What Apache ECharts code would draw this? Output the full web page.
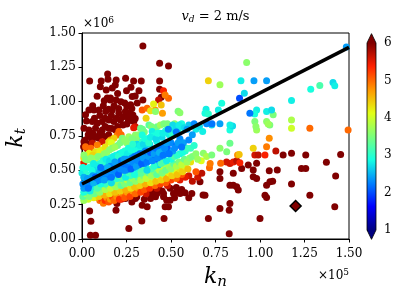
<!DOCTYPE html>
<html><head><meta charset="utf-8">
<script src="https://cdn.jsdelivr.net/npm/echarts@6/dist/echarts.min.js"></script>
<style>html,body{margin:0;padding:0;background:#fff}#c{width:408px;height:307px}</style>
</head><body><div id="c"></div>
<script>
// ---- data (k_n in units of 1e5, k_t in units of 1e6, colour value c) ----
const xTicks = [0, 0.25, 0.5, 0.75, 1.0, 1.25, 1.5];
const yTicks = [0, 0.25, 0.5, 0.75, 1.0, 1.25, 1.5];
const cTicks = [1, 2, 3, 4, 5, 6];

// points saturated at the top of the colour scale (c >= 6)
const ptsDark = [
[0.342,1.406],[0.436,1.280],[0.486,1.260],[0.043,1.151],[0.108,1.151],[0.144,1.202],[0.146,1.163],[0.187,1.122],[0.192,1.158],[0.245,1.170],
[0.290,1.151],[0.333,1.151],[0.436,1.151],[0.436,1.090],[0.275,1.105],[0.299,1.041],[0.342,1.012],[0.445,1.032],[0.136,1.085],[0.103,1.109],
[0.142,1.026],[0.160,1.026],[0.282,1.037],[0.273,0.977],[0.159,1.012],[0.125,1.007],[0.192,1.012],[0.219,1.000],[0.252,0.964],[0.206,0.951],
[0.150,0.944],[0.039,0.940],[0.067,0.940],[0.095,0.940],[0.133,0.928],[0.170,0.940],[0.207,0.916],[0.244,0.928],[0.280,0.951],[0.286,0.903],
[0.299,0.878],[0.252,0.903],[0.020,0.904],[0.058,0.855],[0.086,0.843],[0.114,0.855],[0.151,0.867],[0.179,0.855],[0.216,0.867],[0.263,0.879],
[0.291,0.855],[0.252,0.837],[0.011,0.806],[0.039,0.794],[0.076,0.806],[0.114,0.794],[0.151,0.806],[0.188,0.794],[0.168,0.805],[0.048,0.745],
[0.095,0.733],[0.133,0.745],[0.011,0.709],[0.019,0.720],[0.058,0.720],[0.079,0.745],[0.112,0.757],[0.150,0.760],[0.009,0.672],[0.030,0.690],
[0.025,0.860],[0.070,0.880],[0.100,0.900],[0.130,0.880],[0.165,0.900],[0.195,0.880],[0.230,0.890],[0.270,0.920],[0.060,0.970],[0.120,0.970],
[0.180,0.970],[0.240,0.990],[0.310,0.990],[0.085,1.040],[0.200,1.060],[0.250,1.080],[0.320,1.080],[0.170,1.100],[0.060,0.770],[0.130,0.820],
[0.200,0.820],[0.230,0.830],[0.100,0.770],[0.035,0.760],[0.260,0.860],
[0.043,0.204],[0.050,0.129],[0.047,0.027],[0.076,0.027],[0.191,0.209],[0.196,0.258],[0.174,0.290],[0.244,0.295],[0.263,0.076],[0.300,0.295],
[0.308,0.307],[0.338,0.246],[0.366,0.234],[0.336,0.131],[0.385,0.295],[0.413,0.307],[0.398,0.315],[0.421,0.331],[0.458,0.307],[0.476,0.283],
[0.458,0.331],[0.467,0.234],[0.486,0.234],[0.495,0.282],[0.461,0.149],[0.514,0.331],[0.533,0.340],[0.551,0.331],[0.579,0.336],[0.617,0.331],
[0.495,0.370],[0.530,0.375],[0.400,0.360],[0.430,0.370],[0.450,0.350],[0.380,0.330],[0.280,0.270],[0.350,0.290],[0.520,0.300],[0.600,0.300],
[0.560,0.360],[0.663,0.416],[0.680,0.320],[0.691,0.319],[0.710,0.149],
[0.775,0.222],[0.775,0.441],[0.775,0.489],[0.831,0.258],[0.827,0.210],[0.827,0.039],[0.831,0.392],[0.850,0.392],[0.869,0.380],[0.878,0.356],
[0.850,0.478],[0.897,0.514],[0.934,0.538],[0.981,0.551],[0.962,0.502],[0.962,0.453],[0.981,0.441],[1.000,0.149],[1.028,0.319],[1.037,0.302],
[1.037,0.392],[1.056,0.416],[1.071,0.421],[1.052,0.497],[1.097,0.502],[1.130,0.611],[1.177,0.624],[1.177,0.400],[1.233,0.514],[1.257,0.514],
[1.257,0.611],[1.280,0.319],[1.373,0.558],[1.425,0.458],[1.420,0.234],[1.453,0.616]
];
const ptsRed = [
[0.01,0.555,5.5],[0.03,0.655,5.6],[0.058,0.697,5.7],[0.114,0.709,5.6],[0.300,0.818,5.6],[0.290,0.810,5.5],[0.458,1.080,5.4],[0.430,1.012,5.7],
[0.22,0.29,5.5],[0.36,0.33,5.6],[0.42,0.37,5.7],[0.48,0.39,5.6],[0.55,0.43,5.5],[0.60,0.46,5.6],[0.62,0.42,5.7],[0.65,0.45,5.6],[0.673,0.478,5.7],
[0.831,0.550,5.6],[0.850,0.560,5.5],[0.869,0.570,5.7],[0.887,0.555,5.4],[0.812,0.560,5.6],[0.971,0.611,5.6],[0.990,0.611,5.7],[1.028,0.611,5.4],
[1.089,0.641,5.7],[0.580,0.450,5.5]
];
const ptsOrange = [
[0.10,0.28,5.0],[0.09,0.30,4.7],[0.11,0.29,5.2],[0.12,0.26,4.9],[0.13,0.28,5.3],[0.14,0.30,4.8],[0.15,0.27,5.1],[0.16,0.29,4.7],[0.17,0.31,5.2],
[0.18,0.28,5.0],[0.195,0.31,4.8],[0.21,0.29,5.3],[0.23,0.33,4.9],[0.24,0.30,5.1],[0.255,0.34,4.7],[0.27,0.31,5.2],[0.285,0.35,4.8],[0.30,0.33,5.0],
[0.315,0.37,4.7],[0.33,0.34,5.2],[0.345,0.38,4.9],[0.35,0.36,5.1],[0.37,0.40,4.8],[0.38,0.37,5.3],[0.395,0.41,4.7],[0.41,0.39,5.0],[0.425,0.43,4.8],
[0.44,0.40,5.2],[0.455,0.44,4.9],[0.47,0.41,5.1],[0.49,0.45,4.7],[0.50,0.43,5.2],[0.515,0.46,4.8],[0.53,0.44,5.0],[0.545,0.48,4.7],[0.56,0.47,5.1],
[0.64,0.49,5.1],
[0.02,0.672,5.0],[0.086,0.684,4.9],[0.198,0.757,4.9],[0.207,0.782,5.0],[0.338,0.940,5.1],[0.366,0.952,5.0],[0.486,1.024,5.0],[0.467,1.049,4.9],
[0.452,0.915,4.7],[0.411,0.939,4.8],[0.716,0.519,5.0],[0.720,0.550,4.9],[0.779,0.551,5.0],[0.874,0.611,4.8],[1.037,0.672,4.9],[1.052,0.733,4.8],
[1.280,0.806,5.0],[1.495,0.794,5.0],[0.05,0.66,5.0],[0.16,0.72,4.8],[0.22,0.76,5.0]
];
const ptsYellow = [
[0.02,0.31,4.3],[0.035,0.29,4.0],[0.05,0.33,4.5],[0.065,0.30,4.2],[0.08,0.34,3.9],[0.095,0.31,4.4],[0.11,0.35,4.1],[0.125,0.32,4.6],[0.14,0.36,4.0],
[0.155,0.33,4.3],[0.17,0.37,3.9],[0.185,0.34,4.5],[0.20,0.38,4.2],[0.215,0.35,4.4],[0.23,0.39,4.0],[0.245,0.36,4.6],[0.26,0.40,4.1],[0.275,0.37,4.3],
[0.28,0.41,3.9],[0.295,0.38,4.5],[0.31,0.42,4.2],[0.325,0.39,4.4],[0.34,0.43,4.0],[0.355,0.40,4.6],[0.37,0.44,4.1],[0.385,0.41,4.3],[0.40,0.45,3.9],
[0.415,0.42,4.5],[0.43,0.46,4.2],[0.445,0.43,4.4],[0.46,0.47,4.0],[0.475,0.44,4.6],[0.49,0.48,4.2],[0.505,0.46,4.4],[0.52,0.50,4.1],[0.535,0.47,4.5],
[0.55,0.51,4.3],[0.565,0.49,4.4],[0.58,0.53,4.2],[0.595,0.51,4.5],[0.61,0.56,4.3],[0.67,0.57,4.1],
[0.039,0.624,4.2],[0.076,0.636,4.3],[0.114,0.648,4.2],[0.151,0.709,4.3],[0.179,0.733,4.4],[0.385,0.933,4.3],[0.402,0.983,4.2],[0.445,0.976,4.5],
[0.710,1.152,4.4],[0.883,0.616,4.5],[0.962,0.660,4.4],[1.177,0.806,4.0],[0.36,0.88,4.4],[0.01,0.59,4.3],[0.06,0.61,4.4],[0.10,0.64,4.2],
[0.13,0.67,4.3],[0.165,0.70,4.1]
];
const ptsGreen = [
[0.01,0.28,3.7],[0.005,0.31,3.3],[0.025,0.33,3.8],[0.04,0.31,3.5],[0.055,0.35,3.9],[0.07,0.33,3.4],[0.085,0.37,3.7],[0.10,0.34,3.6],[0.115,0.38,3.3],
[0.13,0.36,3.8],[0.145,0.39,3.5],[0.16,0.37,3.9],[0.175,0.40,3.4],[0.19,0.38,3.7],[0.205,0.41,3.6],[0.22,0.39,3.3],[0.235,0.42,3.8],[0.24,0.40,3.5],
[0.255,0.43,3.9],[0.27,0.41,3.4],[0.285,0.44,3.7],[0.30,0.42,3.6],[0.315,0.45,3.3],[0.33,0.43,3.8],[0.345,0.46,3.5],[0.36,0.44,3.9],[0.375,0.48,3.4],
[0.39,0.46,3.7],[0.405,0.49,3.6],[0.42,0.47,3.3],[0.435,0.50,3.8],[0.45,0.48,3.5],[0.465,0.52,3.9],[0.47,0.50,3.4],[0.49,0.53,3.7],[0.50,0.51,3.6],
[0.515,0.55,3.3],[0.53,0.53,3.8],[0.545,0.56,3.5],[0.56,0.54,3.9],[0.575,0.58,3.4],[0.59,0.56,3.7],[0.605,0.59,3.6],[0.62,0.60,3.5],[0.64,0.62,3.6],
[0.65,0.58,3.7],
[0.011,0.611,3.6],[0.03,0.575,3.5],[0.06,0.56,3.4],[0.076,0.587,3.7],[0.11,0.60,3.5],[0.14,0.63,3.7],[0.17,0.66,3.5],[0.20,0.68,3.4],[0.226,0.733,3.5],
[0.25,0.70,3.6],[0.263,0.745,3.7],[0.30,0.757,3.6],[0.31,0.72,3.5],[0.329,0.806,3.4],[0.35,0.78,3.5],[0.376,0.831,3.3],[0.40,0.80,3.6],[0.413,0.928,3.6],
[0.422,0.818,3.4],[0.44,0.83,3.7],[0.48,0.84,3.5],[0.52,0.84,3.6],[0.54,0.93,3.5],[0.55,0.92,3.6],[0.02,0.58,3.5],[0.05,0.59,3.6],[0.09,0.60,3.5],
[0.125,0.62,3.6],[0.155,0.65,3.6],[0.185,0.67,3.7],[0.215,0.70,3.5],[0.24,0.72,3.6],[0.28,0.73,3.5],[0.32,0.76,3.6],[0.34,0.80,3.4],[0.39,0.82,3.5],
[0.46,0.84,3.5],
[0.682,0.624,3.6],[0.70,0.60,3.8],[0.729,0.611,3.5],[0.775,0.660,3.6],[0.813,0.635,3.5],[0.831,0.697,3.4],[0.775,1.123,3.7],[0.925,1.286,3.6],
[0.971,0.855,3.5],[0.981,0.794,3.7],[0.977,0.820,3.6],[1.037,0.855,3.6],[1.055,0.830,3.5],[1.046,0.838,3.7],[1.074,0.904,3.5],[1.177,0.867,3.8],
[1.336,1.118,3.2]
];
const ptsCyan = [
[0.01,0.34,2.9],[0.03,0.36,3.2],[0.06,0.38,2.8],[0.09,0.39,3.3],[0.11,0.42,2.7],[0.13,0.40,3.1],[0.15,0.44,2.9],[0.17,0.42,3.3],[0.20,0.46,2.8],
[0.22,0.44,3.2],[0.25,0.48,2.7],[0.27,0.46,3.1],[0.30,0.50,2.9],[0.33,0.48,3.3],[0.36,0.52,2.8],[0.39,0.51,3.2],[0.43,0.54,2.7],[0.46,0.56,3.1],
[0.50,0.58,2.9],[0.52,0.60,3.2],[0.55,0.62,2.8],[0.58,0.64,3.0],[0.61,0.66,3.1],
[0.015,0.36,3.0],[0.045,0.35,2.8],[0.085,0.37,3.2],[0.105,0.40,2.9],[0.145,0.42,3.1],[0.165,0.41,2.7],[0.195,0.44,3.0],[0.215,0.46,3.3],[0.245,0.45,2.8],
[0.265,0.48,3.1],[0.295,0.47,2.9],[0.335,0.51,3.2],[0.365,0.50,2.7],[0.405,0.53,3.0],[0.445,0.55,3.2],[0.475,0.57,2.8],[0.535,0.61,3.0],[0.565,0.63,2.9],
[0.59,0.66,3.1],[0.63,0.68,3.0],
[0.00,0.48,2.8],[0.02,0.51,3.0],[0.04,0.52,2.9],[0.07,0.53,2.8],[0.08,0.50,2.7],[0.10,0.55,3.0],[0.12,0.57,2.9],[0.14,0.55,2.7],[0.16,0.59,3.0],
[0.18,0.57,2.7],[0.19,0.61,2.9],[0.21,0.62,2.8],[0.23,0.60,2.7],[0.24,0.64,3.0],[0.26,0.66,2.9],[0.28,0.63,2.8],[0.29,0.67,2.9],[0.31,0.69,2.7],
[0.32,0.65,2.9],[0.34,0.71,3.0],[0.35,0.67,2.8],[0.37,0.73,2.9],[0.38,0.69,2.7],[0.394,0.782,2.8],[0.40,0.75,2.9],[0.42,0.71,2.8],[0.44,0.77,2.8],
[0.45,0.74,2.7],[0.47,0.79,3.0],[0.49,0.76,2.8],[0.51,0.83,2.7],[0.54,0.80,2.8],[0.56,0.84,2.9],[0.60,0.83,2.6],[0.64,0.80,2.8],[0.66,0.82,2.7],
[0.338,0.757,2.9],[0.005,0.52,2.9],[0.025,0.47,3.0],[0.055,0.50,2.9],[0.065,0.55,2.8],[0.095,0.53,2.8],[0.115,0.56,3.0],[0.135,0.58,2.8],[0.155,0.57,2.7],
[0.175,0.60,2.8],[0.205,0.60,3.0],[0.225,0.63,2.9],[0.255,0.62,2.8],[0.275,0.65,2.9],[0.285,0.69,3.0],[0.305,0.64,2.9],[0.325,0.68,2.8],[0.345,0.69,2.7],
[0.355,0.73,2.9],[0.375,0.70,3.0],[0.385,0.74,2.8],[0.415,0.73,2.7],[0.425,0.77,2.9],[0.455,0.77,2.8],[0.495,0.80,2.8],[0.505,0.77,3.0],[0.525,0.79,2.7],
[0.545,0.83,2.8],[0.575,0.81,2.7],
[0.678,0.782,2.8],[0.697,0.945,2.8],[0.691,0.916,2.9],[0.710,0.911,3.0],[0.766,0.940,2.8],[0.785,0.989,2.9],[0.729,0.830,2.7],[0.831,0.794,2.9],
[0.846,0.823,2.7],[0.831,0.830,2.8],[0.893,1.152,2.8],[0.912,1.062,2.7],[0.981,0.940,2.8],[0.970,0.910,2.9],[1.037,0.928,2.8],[1.065,0.940,2.7],
[1.177,1.008,2.8],[1.285,1.091,2.9],[1.410,1.140,2.7],[1.420,1.115,2.8]
];
const ptsBlue = [
[0.01,0.37,2.4],[0.02,0.41,2.2],[0.01,0.45,2.5],[0.04,0.39,2.3],[0.05,0.43,2.1],[0.06,0.46,2.4],[0.08,0.42,2.2],[0.09,0.46,2.3],[0.10,0.49,2.5],
[0.11,0.44,2.1],[0.12,0.47,2.3],[0.13,0.51,2.4],[0.14,0.45,2.2],[0.15,0.49,2.0],[0.16,0.53,2.3],[0.17,0.47,2.4],[0.18,0.51,2.1],[0.19,0.55,2.3],
[0.20,0.49,2.2],[0.21,0.53,2.4],[0.22,0.57,2.2],[0.23,0.50,2.3],[0.24,0.54,2.1],[0.25,0.58,2.4],[0.26,0.51,2.2],[0.27,0.55,2.0],[0.28,0.59,2.3],
[0.29,0.52,2.4],[0.30,0.56,2.2],[0.31,0.61,2.3],[0.32,0.54,2.1],[0.33,0.58,2.4],[0.34,0.62,2.2],[0.35,0.55,2.3],[0.36,0.59,2.0],[0.37,0.64,2.3],
[0.38,0.57,2.4],[0.39,0.61,2.2],[0.40,0.65,2.3],[0.41,0.58,2.1],[0.42,0.62,2.4],[0.43,0.67,2.2],[0.44,0.60,2.3],[0.45,0.64,2.4],[0.46,0.69,2.2],
[0.47,0.62,2.3],[0.48,0.66,2.1],[0.50,0.70,2.3],[0.51,0.64,2.4],[0.53,0.68,2.2],[0.55,0.73,2.3],[0.57,0.70,2.4],[0.485,0.80,2.3],[0.53,0.78,2.2],
[0.59,0.80,2.4],[0.63,0.84,2.3],[0.70,0.84,2.3],[0.73,0.84,2.2],[0.775,0.84,2.4],[0.885,1.025,2.0],[0.943,0.916,2.2],[0.966,1.152,2.4],
[1.037,1.152,2.4],[1.485,1.398,2.4],
[0.005,0.40,2.3],[0.03,0.44,2.4],[0.035,0.37,2.2],[0.065,0.41,2.5],[0.075,0.45,2.1],[0.095,0.43,2.3],[0.105,0.52,2.2],[0.125,0.43,2.4],[0.135,0.48,2.3],
[0.145,0.52,2.5],[0.165,0.45,2.2],[0.175,0.50,2.3],[0.185,0.56,2.4],[0.205,0.47,2.1],[0.215,0.51,2.3],[0.225,0.55,2.2],[0.235,0.58,2.4],[0.245,0.50,2.3],
[0.255,0.54,2.2],[0.265,0.57,2.4],[0.275,0.51,2.1],[0.285,0.56,2.3],[0.295,0.60,2.2],[0.305,0.53,2.4],[0.315,0.57,2.3],[0.325,0.62,2.2],[0.335,0.55,2.1],
[0.345,0.59,2.4],[0.355,0.64,2.3],[0.365,0.56,2.2],[0.375,0.60,2.4],[0.385,0.63,2.1],[0.395,0.57,2.3],[0.405,0.62,2.4],[0.415,0.66,2.2],[0.425,0.59,2.3],
[0.435,0.63,2.5],[0.455,0.61,2.2],[0.465,0.66,2.3],[0.475,0.70,2.4],[0.49,0.62,2.2],[0.52,0.66,2.3],[0.54,0.70,2.4],[0.56,0.67,2.2],[0.60,0.72,2.3],
[0.62,0.76,2.4]
];
// fitted line and highlighted point
const lineKn = [0, 1.5];
const lineKt = [0.40, 1.395];
const markerPt = [1.2, 0.24];

const jet = ['#000080','#0000ff','#0080ff','#15ffe2','#7bff7b','#e2ff15','#ff9700','#ff2100','#800000'];
const FONT = 'DejaVu Serif';

const scatterData = ptsDark.map(p => [p[0], p[1], 6])
  .concat(ptsRed, ptsOrange, ptsYellow, ptsGreen, ptsCyan, ptsBlue);

const chart = echarts.init(document.getElementById('c'), null, {renderer: 'canvas'});

function renderBar(params, api) {
  const p0 = api.coord([0, cTicks[0]]);
  const p1 = api.coord([1, cTicks[cTicks.length - 1]]);
  const x0 = p0[0], y0 = p0[1], x1 = p1[0], y1 = p1[1];
  const ext = 0.05 * (y0 - y1);
  const xc = (x0 + x1) / 2;
  const stops = jet.map((c, i) => ({offset: i / (jet.length - 1), color: c}));
  return {type: 'group', children: [
    {type: 'rect', shape: {x: x0, y: y1, width: x1 - x0, height: y0 - y1},
     style: {fill: new echarts.graphic.LinearGradient(0, 1, 0, 0, stops)}},
    {type: 'polygon', shape: {points: [[x0, y1], [x1, y1], [xc, y1 - ext]]}, style: {fill: '#800000'}},
    {type: 'polygon', shape: {points: [[x0, y0], [x1, y0], [xc, y0 + ext]]}, style: {fill: '#000080'}},
    {type: 'polygon', shape: {points: [[x0, y0], [xc, y0 + ext], [x1, y0], [x1, y1], [xc, y1 - ext], [x0, y1]]},
     style: {fill: 'none', stroke: '#000', lineWidth: 0.8}}
  ]};
}

const axisCommon = {
  axisLine: {show: true, lineStyle: {color: '#000', width: 1}},
  axisTick: {show: true, inside: false, length: 3.5, lineStyle: {color: '#000', width: 1}},
  splitLine: {show: false}
};

chart.setOption({
  animation: false,
  backgroundColor: '#fff',
  grid: [
    {left: 82, right: 59, top: 33, bottom: 68, show: true, borderColor: '#000', borderWidth: 1, outerBoundsMode: 'none', containLabel: false},
    {left: 367, width: 9, top: 43, height: 187, outerBoundsMode: 'none', containLabel: false}
  ],
  xAxis: [
    Object.assign({type: 'value', gridIndex: 0, min: xTicks[0], max: xTicks[xTicks.length - 1], interval: 0.25,
      axisLabel: {color: '#000', fontFamily: FONT, fontSize: 12, margin: 9, formatter: v => v.toFixed(2)}}, axisCommon),
    {type: 'value', gridIndex: 1, min: 0, max: 1, show: false}
  ],
  yAxis: [
    Object.assign({type: 'value', gridIndex: 0, min: yTicks[0], max: yTicks[yTicks.length - 1], interval: 0.25,
      axisLabel: {color: '#000', fontFamily: FONT, fontSize: 12, margin: 6, formatter: v => v.toFixed(2)}}, axisCommon),
    {type: 'value', gridIndex: 1, min: cTicks[0], max: cTicks[cTicks.length - 1], interval: 1, position: 'right',
      axisLine: {show: false},
      axisTick: {show: true, inside: false, length: 3.5, lineStyle: {color: '#000', width: 1}},
      splitLine: {show: false},
      axisLabel: {color: '#000', fontFamily: FONT, fontSize: 12, margin: 8}}
  ],
  visualMap: {
    show: false, type: 'continuous', seriesIndex: 0, dimension: 2,
    min: cTicks[0], max: cTicks[cTicks.length - 1], inRange: {color: jet}
  },
  series: [
    {type: 'scatter', xAxisIndex: 0, yAxisIndex: 0, symbolSize: 7, data: scatterData,
     itemStyle: {opacity: 1}, z: 2},
    {type: 'line', xAxisIndex: 0, yAxisIndex: 0, symbol: 'none',
     data: lineKn.map((x, i) => [x, lineKt[i]]),
     lineStyle: {color: '#000', width: 3.5}, z: 3},
    {type: 'scatter', xAxisIndex: 0, yAxisIndex: 0, symbol: 'diamond', symbolSize: 11,
     data: [markerPt], itemStyle: {color: '#800000', opacity: 1, borderColor: '#000', borderWidth: 1.5}, z: 4},
    {type: 'custom', xAxisIndex: 1, yAxisIndex: 1, renderItem: renderBar, data: [[0]], clip: false, z: 2}
  ],
  graphic: [
    {type: 'text', x: 215.5, y: 17, style: {
      text: '{i|v}{s|d}{n| = 2 m/s}', align: 'center', verticalAlign: 'middle',
      rich: {i: {fontFamily: FONT, fontStyle: 'italic', fontSize: 13, fill: '#000'},
             s: {fontFamily: FONT, fontStyle: 'italic', fontSize: 9, fill: '#000', verticalAlign: 'bottom', padding: [6, 0, 0, 0]},
             n: {fontFamily: FONT, fontSize: 13, fill: '#000'}}}},
    {type: 'text', x: 83, y: 24, style: {
      text: '{a|×10}{b|6}', align: 'left', verticalAlign: 'middle',
      rich: {a: {fontFamily: FONT, fontSize: 12, fill: '#000'}, b: {fontFamily: FONT, fontSize: 9, fill: '#000', padding: [0, 0, 6, 0]}}}},
    {type: 'text', x: 349, y: 276, style: {
      text: '{a|×10}{b|5}', align: 'right', verticalAlign: 'middle',
      rich: {a: {fontFamily: FONT, fontSize: 12, fill: '#000'}, b: {fontFamily: FONT, fontSize: 9, fill: '#000', padding: [0, 0, 6, 0]}}}},
    {type: 'text', x: 215.5, y: 277, style: {
      text: '{k|k}{s|n}', align: 'center', verticalAlign: 'middle',
      rich: {k: {fontFamily: FONT, fontStyle: 'italic', fontSize: 22, fill: '#000'},
             s: {fontFamily: FONT, fontStyle: 'italic', fontSize: 15, fill: '#000', padding: [10, 0, 0, 0]}}}},
    {type: 'text', x: 16, y: 138, rotation: Math.PI / 2, style: {
      text: '{k|k}{s|t}', align: 'center', verticalAlign: 'middle',
      rich: {k: {fontFamily: FONT, fontStyle: 'italic', fontSize: 22, fill: '#000'},
             s: {fontFamily: FONT, fontStyle: 'italic', fontSize: 15, fill: '#000', padding: [10, 0, 0, 0]}}}}
  ]
});
</script></body></html>
